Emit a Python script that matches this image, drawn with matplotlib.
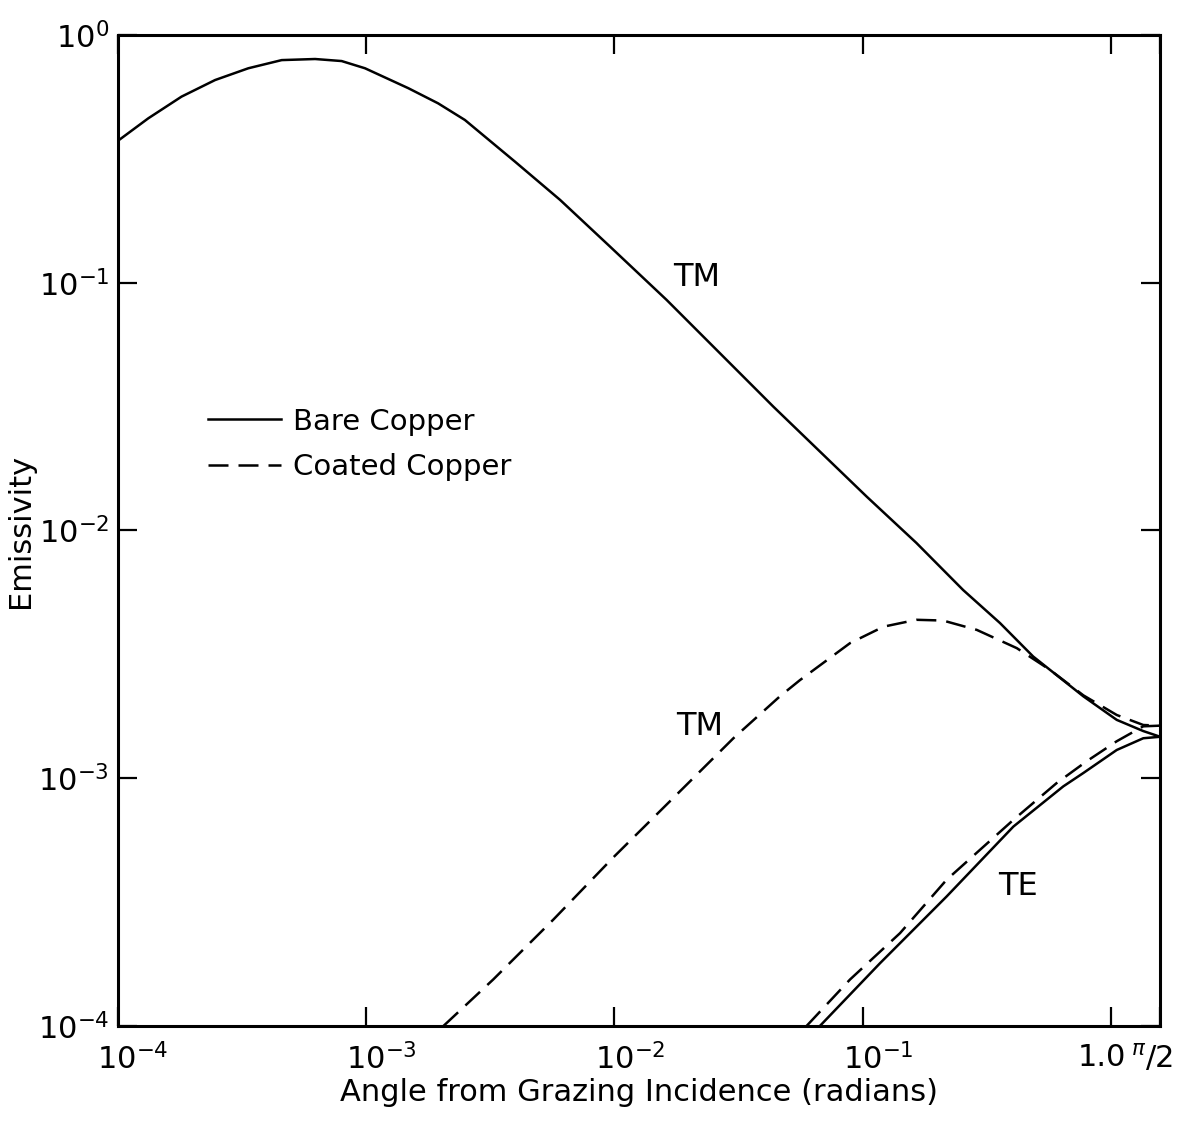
import numpy as np
import matplotlib
matplotlib.use('Agg')
import matplotlib.pyplot as plt
import matplotlib.transforms as mtransforms
from matplotlib.lines import Line2D

plt.rcParams.update({'font.family': 'DejaVu Sans', 'mathtext.fontset': 'dejavusans'})

# Bare copper, TM
tm_bare_x = [1.0e-4, 1.33e-4, 1.81e-4, 2.47e-4, 3.36e-4, 4.58e-4, 6.24e-4, 7.98e-4,
             9.91e-4, 1.48e-3, 1.95e-3, 2.50e-3, 3.98e-3, 6.04e-3, 9.59e-3, 0.0162,
             0.0436, 0.1035, 0.164, 0.253, 0.356, 0.484, 0.771, 1.05, 1.343, np.pi / 2]
tm_bare_y = [0.373, 0.461, 0.564, 0.658, 0.734, 0.792, 0.800, 0.785,
             0.734, 0.610, 0.530, 0.454, 0.308, 0.216, 0.140, 0.0853,
             0.0316, 0.0137, 8.91e-3, 5.75e-3, 4.23e-3, 3.10e-3, 2.14e-3, 1.72e-3, 1.55e-3, 1.47e-3]

# Coated copper, TM
tm_coat_x = [2.05e-3, 3.25e-3, 5.68e-3, 9.89e-3, 0.0189, 0.0301, 0.0463, 0.0558,
             0.0887, 0.121, 0.164, 0.210, 0.287, 0.416, 0.565, 0.771, 1.05, 1.343, np.pi / 2]
tm_coat_y = [1.0e-4, 1.54e-4, 2.69e-4, 4.79e-4, 9.12e-4, 1.45e-3, 2.14e-3, 2.49e-3,
             3.51e-3, 4.09e-3, 4.36e-3, 4.33e-3, 3.97e-3, 3.35e-3, 2.74e-3, 2.16e-3, 1.80e-3, 1.64e-3, 1.63e-3]

# Coated copper, TE
te_coat_x = [0.0593, 0.0887, 0.141, 0.217, 0.403, 0.601, 0.794, 1.05, 1.343, np.pi / 2]
te_coat_y = [1.0e-4, 1.54e-4, 2.37e-4, 3.89e-4, 6.79e-4, 9.55e-4, 1.17e-3, 1.41e-3, 1.62e-3, 1.63e-3]

# Bare copper, TE
te_bare_x = [0.0671, 0.117, 0.217, 0.403, 0.640, 0.771, 1.05, 1.343, np.pi / 2]
te_bare_y = [1.0e-4, 1.79e-4, 3.33e-4, 6.38e-4, 9.27e-4, 1.05e-3, 1.30e-3, 1.45e-3, 1.47e-3]

xticks = [1e-4, 1e-3, 1e-2, 1e-1, 1.0, np.pi / 2]
xticklabels = [r'$10^{-4}$', r'$10^{-3}$', r'$10^{-2}$', r'$10^{-1}$', '1.0', r'$^{\pi}/2$']
yticks = [1e-4, 1e-3, 1e-2, 1e-1, 1.0]
yticklabels = [r'$10^{-4}$', r'$10^{-3}$', r'$10^{-2}$', r'$10^{-1}$', r'$10^{0}$']

fig = plt.figure(figsize=(11.93, 11.22), dpi=100)
ax = fig.add_axes([0.0985, 0.0856, 0.874, 0.8832])

lw = 1.8
dash = (8, 4)
ax.plot(tm_bare_x, tm_bare_y, color='black', lw=lw)
ax.plot(te_bare_x, te_bare_y, color='black', lw=lw)
ax.plot(tm_coat_x, tm_coat_y, color='black', lw=lw, dashes=dash)
ax.plot(te_coat_x, te_coat_y, color='black', lw=lw, dashes=dash)

ax.set_xscale('log')
ax.set_yscale('log')
ax.set_xlim(1e-4, np.pi / 2)
ax.set_ylim(1e-4, 1.0)

ax.set_xticks(xticks)
ax.set_xticklabels(xticklabels)
ax.set_yticks(yticks)
ax.set_yticklabels(yticklabels)
ax.minorticks_off()
ax.tick_params(which='major', direction='in', length=14, width=1.6,
               top=True, right=True, labelsize=22)
ax.tick_params(axis='x', pad=12)
ax.tick_params(axis='y', pad=6)
for s in ax.spines.values():
    s.set_linewidth(2.2)

# shift x tick labels so the "10" sits on the tick
shifts = [11, 11, 11, 11, -7, -6]
for lab, dx in zip(ax.get_xticklabels(), shifts):
    off = mtransforms.ScaledTranslation(dx / 72, 0, fig.dpi_scale_trans)
    lab.set_transform(lab.get_transform() + off)

ax.set_xlabel('Angle from Grazing Incidence (radians)', fontsize=22, labelpad=2)
ax.set_ylabel('Emissivity', fontsize=22, labelpad=2)

ax.text(0.0215, 0.1046, 'TM', fontsize=23, ha='center', va='center')
ax.text(0.0221, 1.61e-3, 'TM', fontsize=23, ha='center', va='center')
ax.text(0.421, 3.65e-4, 'TE', fontsize=23, ha='center', va='center')

handles = [Line2D([], [], color='black', lw=lw),
           Line2D([], [], color='black', lw=lw, dashes=dash)]
ax.legend(handles, ['Bare Copper', 'Coated Copper'], loc='upper left',
          bbox_to_anchor=(0.087, 0.624), frameon=False, fontsize=21,
          handlelength=2.5, handletextpad=0.4, labelspacing=0.6,
          borderpad=0, borderaxespad=0)

fig.savefig('out.png', dpi=100)
